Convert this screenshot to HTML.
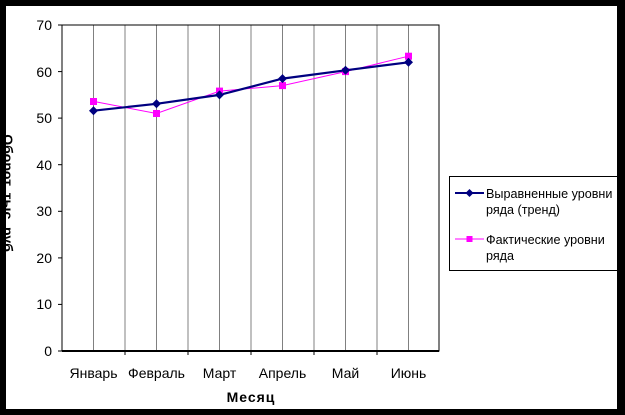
<!DOCTYPE html>
<html><head><meta charset="utf-8"><style>
body{margin:0;background:#000;}
svg{display:block;font-family:"Liberation Sans",sans-serif;}
</style></head><body>
<svg width="625" height="415" viewBox="0 0 625 415">
<rect x="0" y="0" width="625" height="415" fill="#000"/>
<rect x="6" y="6" width="611" height="403" fill="#fff"/>
<text transform="translate(3,195) rotate(90)" font-size="14" font-weight="bold" text-anchor="middle">Оборот, тыс. руб.</text>
<rect x="0" y="0" width="6" height="415" fill="#000"/>
<g stroke="#808080" stroke-width="1">
<line x1="93.5" y1="25" x2="93.5" y2="351"/><line x1="125" y1="25" x2="125" y2="351"/>
<line x1="156.5" y1="25" x2="156.5" y2="351"/><line x1="188" y1="25" x2="188" y2="351"/>
<line x1="219.5" y1="25" x2="219.5" y2="351"/><line x1="251" y1="25" x2="251" y2="351"/>
<line x1="282.5" y1="25" x2="282.5" y2="351"/><line x1="314" y1="25" x2="314" y2="351"/>
<line x1="345.5" y1="25" x2="345.5" y2="351"/><line x1="377" y1="25" x2="377" y2="351"/>
<line x1="408.5" y1="25" x2="408.5" y2="351"/>
</g>
<rect x="62" y="25" width="377" height="326" fill="none" stroke="#000" stroke-width="1"/>
<line x1="62" y1="351" x2="439" y2="351" stroke="#000" stroke-width="2"/>
<g stroke="#000" stroke-width="1">
<line x1="58" y1="25" x2="62" y2="25"/><line x1="58" y1="71.6" x2="62" y2="71.6"/>
<line x1="58" y1="118.1" x2="62" y2="118.1"/><line x1="58" y1="164.7" x2="62" y2="164.7"/>
<line x1="58" y1="211.3" x2="62" y2="211.3"/><line x1="58" y1="257.9" x2="62" y2="257.9"/>
<line x1="58" y1="304.4" x2="62" y2="304.4"/><line x1="58" y1="351" x2="62" y2="351"/>
<line x1="125" y1="351" x2="125" y2="355"/><line x1="188" y1="351" x2="188" y2="355"/>
<line x1="251" y1="351" x2="251" y2="355"/><line x1="314" y1="351" x2="314" y2="355"/>
<line x1="377" y1="351" x2="377" y2="355"/>
</g>
<g font-size="14" fill="#000" text-anchor="end">
<text x="52" y="30">70</text><text x="52" y="77">60</text><text x="52" y="123">50</text>
<text x="52" y="170">40</text><text x="52" y="216">30</text><text x="52" y="263">20</text>
<text x="52" y="309">10</text><text x="52" y="356">0</text>
</g>
<g font-size="14" fill="#000" text-anchor="middle">
<text x="93.5" y="378">Январь</text><text x="156.5" y="378">Февраль</text>
<text x="219.5" y="378">Март</text><text x="282.5" y="378">Апрель</text>
<text x="345.5" y="378">Май</text><text x="408.5" y="378">Июнь</text>
</g>
<text x="251" y="402" font-size="14" font-weight="bold" text-anchor="middle" letter-spacing="1">Месяц</text>
<polyline points="93.5,101.4 156.5,113.5 219.5,91.1 282.5,85.6 345.5,71.6 408.5,56.2" fill="none" stroke="#ff00ff" stroke-width="1"/>
<polyline points="93.5,110.7 156.5,103.8 219.5,94.9 282.5,78.6 345.5,70.3 408.5,62.3" fill="none" stroke="#000080" stroke-width="2.2"/>
<g fill="#ff00ff">
<rect x="90" y="98" width="7" height="7"/><rect x="153" y="110" width="7" height="7"/>
<rect x="216" y="87.6" width="7" height="7"/><rect x="279" y="82.1" width="7" height="7"/>
<rect x="342" y="68.1" width="7" height="7"/><rect x="405" y="52.7" width="7" height="7"/>
</g>
<g fill="#000080">
<polygon points="93.5,106.2 98,110.7 93.5,115.2 89,110.7"/>
<polygon points="156.5,99.3 161,103.8 156.5,108.3 152,103.8"/>
<polygon points="219.5,90.4 224,94.9 219.5,99.4 215,94.9"/>
<polygon points="282.5,74.1 287,78.6 282.5,83.1 278,78.6"/>
<polygon points="345.5,65.8 350,70.3 345.5,74.8 341,70.3"/>
<polygon points="408.5,57.8 413,62.3 408.5,66.8 404,62.3"/>
</g>
<rect x="449.5" y="176.5" width="168" height="94" fill="#fff" stroke="#000" stroke-width="1"/>
<line x1="455" y1="193" x2="484" y2="193" stroke="#000080" stroke-width="2"/>
<polygon points="469.5,189 473.5,193 469.5,197 465.5,193" fill="#000080"/>
<line x1="455" y1="239" x2="484" y2="239" stroke="#ff00ff" stroke-width="1"/>
<rect x="466.5" y="236" width="6" height="6" fill="#ff00ff"/>
<g font-size="12.6" fill="#000">
<text x="486" y="198">Выравненные уровни</text><text x="486" y="214">ряда (тренд)</text>
<text x="486" y="244">Фактические уровни</text><text x="486" y="260">ряда</text>
</g>
</svg>
</body></html>
